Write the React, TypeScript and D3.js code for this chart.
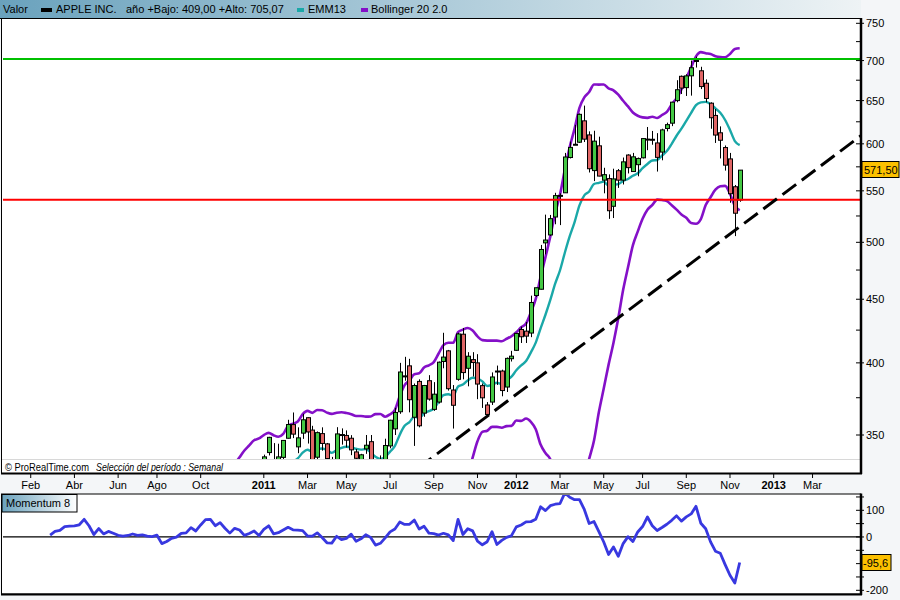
import React from 'react';
import * as d3 from 'd3';

// Weekly AAPL bars, first week starting Mon 2010-01-04
const opens = [
  213.4,212.8,206.8,202.5,192.4,195.7,201.9,202.4,205.8,219.0,225.4,220.5,232.0,234.9,242.2,247.0,271.9,263.8,250.3,254.7,247.3,259.7,258.3,255.0,277.7,266.9,251.0,258.5,248.0,264.1,260.4,261.5,248.0,251.8,241.8,258.5,267.0,277.5,291.8,281.6,295.0,318.0,309.1,303.0,317.6,306.7,308.2,313.8,320.2,321.1,321.0,322.9,
  325.6,338.8,327.0,326.9,335.8,347.9,356.8,342.4,351.2,361.4,353.2,335.9,350.9,344.3,334.1,326.1,350.3,349.7,347.9,339.2,332.2,341.1,345.7,328.0,317.3,327.6,343.0,354.0,365.4,390.4,397.8,361.7,386.5,364.5,387.0,367.0,372.0,401.0,409.0,380.4,388.0,421.8,396.0,402.4,400.0,383.5,370.0,372.0,394.0,394.0,382.5,403.1,
  409.4,425.5,424.2,422.7,453.1,458.4,499.5,506.9,524.0,545.4,548.0,585.0,599.0,601.8,626.1,610.0,571.0,597.8,561.0,562.6,534.5,570.9,561.0,587.7,570.0,577.3,584.7,605.3,605.1,601.0,590.9,617.3,623.4,650.0,679.9,665.8,680.5,699.4,686.9,671.2,646.9,632.4,612.4,595.9,583.5,554.2,540.7,
];
const highs = [
  215.6,213.0,215.2,210.6,198.0,201.3,204.0,205.0,219.0,227.0,227.5,235.0,236.6,242.2,248.0,272.5,272.5,268.0,258.0,256.5,258.5,268.0,260.2,275.0,279.0,269.8,259.9,267.0,265.0,265.2,265.0,264.3,256.0,253.0,259.0,263.8,276.0,294.0,293.0,295.0,315.0,319.0,312.0,318.0,321.3,309.0,316.0,321.0,323.0,325.0,324.7,326.7,
  337.5,348.8,344.8,344.4,346.7,360.0,364.9,355.0,364.0,361.6,356.0,352.3,355.0,344.9,336.1,355.1,354.3,353.0,349.9,341.0,338.0,350.0,350.0,333.0,337.0,347.6,360.0,368.1,400.0,404.5,403.0,385.0,388.0,384.0,391.0,386.0,401.0,422.9,409.7,383.9,422.9,426.7,408.0,408.0,406.5,385.0,372.0,393.0,398.0,395.0,404.0,409.0,
  422.8,427.8,431.4,453.0,459.8,497.6,526.3,526.0,548.0,547.5,590.0,602.6,621.5,634.7,644.0,614.0,614.7,608.0,574.0,567.0,573.0,572.7,585.0,588.5,590.0,585.0,606.5,619.0,614.5,612.0,617.0,624.0,648.2,675.0,680.9,682.5,700.0,705.1,692.0,676.0,648.0,640.0,619.7,598.2,590.0,556.0,571.6,
];
const lows = [
  207.1,202.8,196.6,190.3,190.9,190.3,198.1,197.3,205.8,218.3,220.0,219.5,230.3,234.7,241.9,244.0,260.5,199.3,244.0,232.0,235.6,253.0,244.0,254.0,264.0,243.2,242.0,246.0,239.6,252.9,256.0,248.0,246.0,237.0,239.0,256.0,265.0,276.0,277.0,277.0,294.0,300.0,298.0,299.5,304.0,292.0,306.0,305.0,317.0,317.5,318.0,321.0,
  325.0,337.0,325.0,326.0,334.0,347.7,348.0,338.4,347.5,344.5,326.0,334.0,340.0,334.0,320.2,320.2,343.8,342.0,337.2,326.3,331.0,338.0,325.0,310.5,315.0,326.0,341.5,350.0,364.0,387.0,365.0,343.0,355.0,362.0,373.0,366.0,371.0,396.0,380.0,354.2,387.0,388.0,383.0,390.0,374.0,368.0,362.0,370.0,384.0,376.0,379.0,401.0,
  409.0,415.0,415.0,419.5,452.0,458.2,489.0,506.0,517.0,516.2,548.0,584.0,599.0,601.0,602.0,569.0,560.0,565.0,547.5,522.2,523.0,553.0,556.5,568.0,570.0,565.0,584.0,593.0,599.0,570.0,582.0,614.0,620.0,648.0,658.0,655.6,656.0,691.0,664.0,648.0,617.0,601.0,584.0,571.0,538.0,505.8,539.0,
];
const closes = [
  211.98,205.93,197.75,192.06,195.46,200.38,201.67,204.62,218.95,226.60,222.25,230.90,235.97,241.79,247.40,270.83,261.09,235.86,253.82,242.32,256.88,255.96,253.51,274.07,266.70,246.94,259.62,249.90,259.94,257.25,260.09,249.10,249.64,241.62,258.77,263.41,275.37,292.32,282.52,294.07,314.74,307.47,300.98,317.13,308.03,306.73,315.00,320.15,320.56,320.61,323.60,322.56,
  336.12,348.48,326.72,336.10,346.50,356.85,350.56,348.16,360.00,351.99,330.01,351.54,344.56,335.06,327.46,350.70,350.13,346.66,340.50,335.22,337.41,343.44,325.90,320.26,326.35,343.26,359.71,364.92,393.30,390.48,373.62,383.58,356.03,383.58,374.05,377.48,400.50,404.30,381.32,369.80,422.00,392.87,404.95,400.24,384.62,374.94,363.57,389.70,393.62,380.02,403.33,405.00,
  422.40,419.81,420.30,447.28,459.68,493.42,502.12,522.41,545.18,545.17,585.56,596.05,599.55,633.68,605.23,572.98,603.00,565.25,566.71,530.12,562.29,560.99,580.32,574.13,585.74,584.00,605.88,604.97,604.30,585.16,615.70,621.70,648.11,663.22,665.24,680.44,690.79,700.10,667.10,652.59,629.71,609.84,604.00,576.80,547.06,527.68,571.50,
];

const monthTickDates = ['2010-02','2010-04','2010-06','2010-08','2010-10','2011-01','2011-03','2011-05','2011-07','2011-09','2011-11','2012-01','2012-03','2012-05','2012-07','2012-09','2012-11','2013-01','2013-03'];
const monthTickLabels = ['Feb','Abr','Jun','Ago','Oct','2011','Mar','May','Jul','Sep','Nov','2012','Mar','May','Jul','Sep','Nov','2013','Mar'];
const priceTicks = [350,400,450,500,550,600,650,700,750];
const priceMinorTicks = [375,425,475,525,575,625,675,725];
const momTicks = [150,100,50,0,-50,-100,-150,-200];
const momLabels = [100,0,-200];

const supportLevel = 541;
const resistanceLevel = 702;
const trendWeeks = [60, 175];
const trendPrices = [280.4, 609.2];

const FONT = 'Liberation Sans, Arial, sans-serif';
const START = Date.UTC(2010, 0, 4);
const WEEK = 7 * 864e5;

function weekIndexOfMonth(s: string) {
  const [yy, mm] = s.split('-').map(Number);
  const d = d3.utcMonday.ceil(new Date(Date.UTC(yy, mm - 1, 1)));
  return Math.round((d.getTime() - START) / WEEK);
}

export default function App() {
  const x = d3.scaleLinear().domain([0, 150]).range([11.3, 11.3 + 150 * 4.856]);
  const y = d3.scaleLog().domain([350, 750]).range([435, 23.3]);
  const ym = d3.scaleLinear().domain([-200, 100]).range([590.3, 510.3]);

  // indicators derived from closes
  const ema: number[] = [];
  const a = 2 / 14;
  closes.forEach((c, i) => ema.push(i === 0 ? c : ema[i - 1] + a * (c - ema[i - 1])));
  const bbU: (number | null)[] = [];
  const bbL: (number | null)[] = [];
  closes.forEach((_, i) => {
    if (i < 19) { bbU.push(null); bbL.push(null); return; }
    const w = closes.slice(i - 19, i + 1);
    const m = d3.mean(w)!;
    const sd = Math.sqrt(d3.mean(w.map(v => (v - m) ** 2))!);
    bbU.push(m + 2 * sd); bbL.push(m - 2 * sd);
  });
  const mom = closes.map((c, i) => (i >= 8 ? c - closes[i - 8] : null));

  const linePrice = d3.line<number | null>()
    .defined(v => v != null && v > 0)
    .x((_, i) => x(i))
    .y(v => y(Math.max(v as number, 50)))
    .curve(d3.curveMonotoneX);
  const lineMom = d3.line<number | null>()
    .defined(v => v != null)
    .x((_, i) => x(i))
    .y(v => ym(v as number));

  const ticksX = monthTickDates.map(weekIndexOfMonth);

  const tx1 = x(trendWeeks[0]), ty1 = y(trendPrices[0]);
  const tx2 = x(trendWeeks[1]), ty2 = y(trendPrices[1]);

  return (
    <svg width={900} height={600} style={{ position: 'absolute', left: 0, top: 0, fontFamily: FONT }}>
      <defs>
        <linearGradient id="hdr" x1="0" x2="1" y1="0" y2="0">
          <stop offset="0" stopColor="#6aa2bd" />
          <stop offset="1" stopColor="#eef3f5" />
        </linearGradient>
        <linearGradient id="mhdr" x1="0" x2="1" y1="0" y2="0">
          <stop offset="0" stopColor="#6aa2bd" />
          <stop offset="1" stopColor="#ffffff" />
        </linearGradient>
        <clipPath id="clipMain"><rect x={3} y={19} width={857} height={440} /></clipPath>
        <clipPath id="clipMom"><rect x={3} y={495} width={857} height={98} /></clipPath>
      </defs>
      <rect x={0} y={0} width={900} height={600} fill="#f4f6f8" />
      {/* header */}
      <rect x={0} y={0} width={861} height={18} fill="url(#hdr)" />
      <line x1={0} x2={861} y1={18.5} y2={18.5} stroke="#000" strokeWidth={1} />
      <g fontSize={11} fill="#000">
        <text x={3} y={13}>Valor</text>
        <rect x={41} y={8} width={11} height={4} fill="#000" />
        <text x={56} y={13}>APPLE INC.</text>
        <text x={126} y={13}>año +Bajo: 409,00 +Alto: 705,07</text>
        <rect x={297} y={8} width={7} height={4} fill="#1aa8a8" />
        <text x={308} y={13}>EMM13</text>
        <rect x={361} y={8} width={7} height={4} fill="#8410c8" />
        <text x={371} y={13}>Bollinger 20 2.0</text>
      </g>

      {/* main panel */}
      <rect x={2} y={19} width={859} height={454} fill="#fff" />
      <g clipPath="url(#clipMain)">
        <path d={linePrice(bbU) || ''} fill="none" stroke="#8410c8" strokeWidth={2.6} />
        <path d={linePrice(bbL) || ''} fill="none" stroke="#8410c8" strokeWidth={2.6} />
        <path d={linePrice(ema) || ''} fill="none" stroke="#1aa8a8" strokeWidth={2.4} />
        {closes.map((c, i) => {
          const o = opens[i];
          const up = c >= o;
          const cx = Math.round(x(i)) + 0.5;
          const top = y(Math.max(o, c));
          const bot = y(Math.min(o, c));
          return (
            <g key={i}>
              <line x1={cx} x2={cx} y1={y(highs[i])} y2={y(lows[i])} stroke="#000" strokeWidth={1} />
              <rect x={cx - 2} y={top} width={4} height={Math.max(bot - top, 1)}
                fill={up ? '#44c844' : '#e06666'} stroke="#000" strokeWidth={1} />
            </g>
          );
        })}
        <line x1={2} x2={861} y1={y(resistanceLevel)} y2={y(resistanceLevel)} stroke="#00c000" strokeWidth={2} />
        <line x1={2} x2={861} y1={y(supportLevel)} y2={y(supportLevel)} stroke="#ff0000" strokeWidth={2} />
        <line x1={tx1} y1={ty1} x2={tx2} y2={ty2} stroke="#000" strokeWidth={3} strokeDasharray="17,7" />
      </g>
      <line x1={2} x2={861} y1={459.5} y2={459.5} stroke="#d8d8d8" strokeWidth={1} />
      <text x={5} y={471} fontSize={10} textLength={84} lengthAdjust="spacingAndGlyphs">© ProRealTime.com</text>
      <text x={96} y={471} fontSize={10} fontStyle="italic" textLength={127} lengthAdjust="spacingAndGlyphs">Selección del período : Semanal</text>
      <rect x={1.5} y={18.5} width={859} height={455} fill="none" stroke="#000" strokeWidth={1} />
      <line x1={1} x2={862} y1={473.5} y2={473.5} stroke="#000" strokeWidth={2} />
      <line x1={861} x2={861} y1={18} y2={474} stroke="#000" strokeWidth={2.5} />

      {/* price axis */}
      {priceTicks.map(t => (
        <g key={t}>
          <line x1={856} x2={864} y1={y(t)} y2={y(t)} stroke="#000" strokeWidth={1} />
          <text x={866} y={y(t) + 4} fontSize={11}>{t}</text>
        </g>
      ))}
      {priceMinorTicks.map(t => (
        <line key={t} x1={856} x2={861} y1={y(t)} y2={y(t)} stroke="#000" strokeWidth={1} />
      ))}
      <rect x={862} y={161.5} width={37} height={16} fill="#fcc000" stroke="#000" strokeWidth={1} />
      <text x={864} y={174} fontSize={11}>571,50</text>

      {/* x axis */}
      {ticksX.map((wi, k) => (
        <g key={k}>
          <line x1={x(wi)} x2={x(wi)} y1={474} y2={478} stroke="#000" strokeWidth={1} />
          <text x={x(wi)} y={489} fontSize={11} textAnchor="middle"
            fontWeight={/^\d/.test(monthTickLabels[k]) ? 'bold' : 'normal'}>{monthTickLabels[k]}</text>
        </g>
      ))}

      {/* momentum panel */}
      <rect x={2} y={494} width={859} height={100} fill="#fff" />
      <g clipPath="url(#clipMom)">
        <line x1={2} x2={861} y1={ym(0)} y2={ym(0)} stroke="#000" strokeWidth={1.2} />
        <path d={lineMom(mom) || ''} fill="none" stroke="#3838e0" strokeWidth={2.8} strokeLinejoin="round" />
      </g>
      <rect x={1.5} y={494} width={859} height={100} fill="none" stroke="#000" strokeWidth={1} />
      <line x1={1} x2={862} y1={594.5} y2={594.5} stroke="#000" strokeWidth={2} />
      <line x1={861} x2={861} y1={493.5} y2={595} stroke="#000" strokeWidth={2.5} />
      <rect x={2} y={494.5} width={75} height={17.5} fill="url(#mhdr)" stroke="#000" strokeWidth={1} />
      <text x={6} y={507} fontSize={11}>Momentum 8</text>
      {momTicks.map(t => (
        <line key={t} x1={856} x2={864} y1={ym(t)} y2={ym(t)} stroke="#000" strokeWidth={1} />
      ))}
      {momLabels.map(t => (
        <text key={t} x={866} y={ym(t) + 4} fontSize={11}>{t}</text>
      ))}
      <rect x={862} y={554.5} width={29} height={16} fill="#fcc000" stroke="#000" strokeWidth={1} />
      <text x={863} y={567} fontSize={11}>-95,6</text>
    </svg>
  );
}
